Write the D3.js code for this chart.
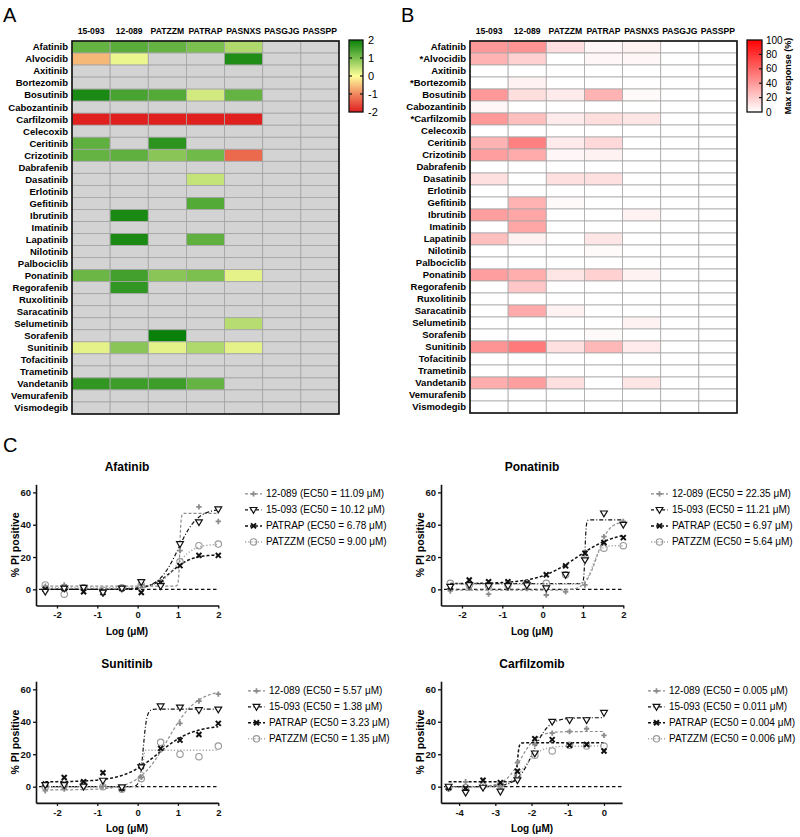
<!DOCTYPE html>
<html><head><meta charset="utf-8">
<script src="https://cdn.jsdelivr.net/npm/d3@7"></script>
<style>body{margin:0;background:#fff}svg{font-family:"Liberation Sans",Arial,sans-serif}</style>
</head><body><svg id="c" width="800" height="837"></svg>
<script>
// ---------------- DATA ----------------
const drugs = ["Afatinib","Alvocidib","Axitinib","Bortezomib","Bosutinib","Cabozantinib","Carfilzomib","Celecoxib","Ceritinib","Crizotinib","Dabrafenib","Dasatinib","Erlotinib","Gefitinib","Ibrutinib","Imatinib","Lapatinib","Nilotinib","Palbociclib","Ponatinib","Regorafenib","Ruxolitinib","Saracatinib","Selumetinib","Sorafenib","Sunitinib","Tofacitinib","Trametinib","Vandetanib","Vemurafenib","Vismodegib"];
const starredDrugs = ["Alvocidib","Bortezomib","Carfilzomib"];
const cellLines = ["15-093","12-089","PATZZM","PATRAP","PASNXS","PASGJG","PASSPP"];
const N = null;
// Panel A: sensitivity z-scores (null = not assessed, grey)
const zScores = [
 [1.2,1.3,1.2,1.0,0.6,N,N],
 [-0.6,0.15,N,N,1.8,N,N],
 [N,N,N,N,N,N,N],
 [N,N,N,N,N,N,N],
 [1.85,1.45,1.35,0.35,1.2,N,N],
 [N,N,N,N,N,N,N],
 [-2,-2,-2,-2,-2,N,N],
 [N,N,N,N,N,N,N],
 [1.25,N,1.7,N,N,N,N],
 [1.2,1.25,0.9,1.1,-1.3,N,N],
 [N,N,N,N,N,N,N],
 [N,N,N,0.45,N,N,N],
 [N,N,N,N,N,N,N],
 [N,N,N,1.35,N,N,N],
 [N,1.85,N,N,N,N,N],
 [N,N,N,N,N,N,N],
 [N,1.85,N,1.25,N,N,N],
 [N,N,N,N,N,N,N],
 [N,N,N,N,N,N,N],
 [1.15,1.5,0.9,1.0,0.2,N,N],
 [N,1.65,N,N,N,N,N],
 [N,N,N,N,N,N,N],
 [N,N,N,N,N,N,N],
 [N,N,N,N,0.55,N,N],
 [N,N,2.0,N,N,N,N],
 [0.2,0.9,0.2,0.6,0.2,N,N],
 [N,N,N,N,N,N,N],
 [N,N,N,N,N,N,N],
 [1.65,1.55,1.55,1.2,N,N,N],
 [N,N,N,N,N,N,N],
 [N,N,N,N,N,N,N]
];
// Panel B: max response (%)
const maxResponse = [
 [40,42,12,3,5,0,0],
 [30,18,0,3,3,0,0],
 [0,0,0,0,0,0,0],
 [0,5,0,0,0,0,0],
 [40,13,8,30,2,0,0],
 [3,0,0,0,0,0,0],
 [40,25,8,13,10,0,0],
 [0,0,0,0,0,0,0],
 [30,50,8,15,0,0,0],
 [38,33,3,5,0,0,0],
 [0,0,0,0,0,0,0],
 [12,0,12,12,0,0,0],
 [0,0,0,0,0,0,0],
 [0,30,2,0,0,0,0],
 [38,35,0,0,5,0,0],
 [0,35,0,0,0,0,0],
 [25,5,0,10,0,0,0],
 [0,0,0,2,0,0,0],
 [0,0,0,0,0,0,0],
 [38,32,10,18,5,0,0],
 [0,22,0,0,0,0,0],
 [0,0,0,0,0,0,0],
 [0,33,5,0,0,0,0],
 [0,0,0,0,5,0,0],
 [0,0,0,2,0,0,0],
 [42,52,12,28,8,0,0],
 [0,0,0,0,0,0,0],
 [0,0,0,0,0,0,0],
 [32,38,12,0,10,0,0],
 [0,0,0,0,0,0,0],
 [0,0,0,0,0,0,0]
];
const zTicks = [2,1,0,-1,-2];
const maxTicks = [100,80,60,40,20,0];

// Panel C: dose response
const drLines = ["12-089","15-093","PATRAP","PATZZM"];
const yTicksDR = [0,20,40,60];
const xTicksMain = [-2,-1,0,1,2];
const xTicksCarf = [-4,-3,-2,-1,0];
const dosesMain = [-2.29,-1.82,-1.34,-0.86,-0.39,0.09,0.57,1.05,1.52,2.0];
const dosesCarf = [-4.29,-3.82,-3.34,-2.86,-2.39,-1.91,-1.43,-0.95,-0.48,0.0];
const afatinibY = [
 [2,2.7,1.6,-3,1,2.7,3,24,51,42],
 [-1.5,0.5,1,-2,0.5,4.5,2,28,41.5,49.5],
 [0,0.5,-1.5,-2,0.5,-2,4,14.7,21,21],
 [2.7,-3,1,-0.5,1,2.7,4,17,27,28]
];
const ponatinibY = [
 [-1,0.6,-3,0.6,0.5,-3.5,-1.5,2.7,32.6,42],
 [1.6,2.7,2,2,2.5,0.6,9,18,47,40],
 [1.6,5.8,4.7,4.7,4,9,14.5,22.3,29,32],
 [3.7,2.7,2,2.7,3.7,3.7,9,20,25.5,27]
];
const sunitinibY = [
 [-2.5,-1.4,-0.4,0.4,-1.6,5.7,22.6,39,52.8,57],
 [1,1,0,3.7,-0.4,12,49.5,48.8,47.2,47.6],
 [1.6,5.7,3,8.6,-1,12.7,23.6,28.7,32.2,39],
 [0,1,1,0,-1.6,5,27.3,20,18.5,25]
];
const carfilzomibY = [
 [-1.6,3,0,0.4,14.8,26,33,34,35.7,31.6],
 [0,-3.7,-0.6,-3,4,20.5,40,41,41,45.5],
 [-0.5,-1,4,2.5,9.5,29.5,29,25.5,26,22],
 [-0.6,-0.5,0.5,1,6.5,19.3,22,25.5,25,25]
];
// fitted 4-parameter curves: [bottom, top, logEC50, hill]
const afatinibFit = [[2,47,1.045,30],[0,50,1.005,1.8],[0,21.5,0.83,1.7],[1,28,0.954,2.0]];
const ponatinibFit = [[-0.5,42,1.35,3],[3.5,43,1.05,30],[3.5,36,0.843,0.9],[3.2,27,1.25,5]];
const sunitinibFit = [[-2,60,0.746,1.2],[0,47.8,0.14,10],[3,38,0.51,1.0],[0,22.5,0.13,30]];
const carfilzomibFit = [[0,34,-2.3,2],[0,42.5,-1.96,2],[3,27,-2.39,20],[-0.5,25,-2.2,2]];
const afatinibEC50 = ["11.09","10.12","6.78","9.00"];
const ponatinibEC50 = ["22.35","11.21","6.97","5.64"];
const sunitinibEC50 = ["5.57","1.38","3.23","1.35"];
const carfilzomibEC50 = ["0.005","0.011","0.004","0.006"];

// ---------------- DRAW ----------------
const svg = d3.select("#c");

// panel letters
[["A",3,22],["B",401,22],["C",3,452]].forEach(([t,x,y])=>{
  svg.append("text").attr("x",x).attr("y",y).attr("font-size",20).text(t);
});

const zColor = d3.scaleLinear().domain([-2,-1,0,1,2])
  .range(["#e01f1f","#f08860","#ffff99","#7cc050","#098009"]);
const mColor = d3.scaleLinear().domain([0,100]).range(["#ffffff","#ff0000"]);

function drawHeat(cfg){
  const g = svg.append("g");
  const x = d3.scaleBand().domain(cellLines).range([cfg.x0,cfg.x1]);
  const y = d3.scaleBand().domain(drugs).range([cfg.y0,cfg.y1]);
  drugs.forEach((d,i)=>cellLines.forEach((c,j)=>{
    const v = cfg.values[i][j];
    g.append("rect").attr("x",x(c)).attr("y",y(d))
      .attr("width",x.bandwidth()).attr("height",y.bandwidth())
      .attr("fill", v==null ? "#d3d3d3" : cfg.color(v))
      .attr("stroke",cfg.grid).attr("stroke-width",0.8);
  }));
  g.append("rect").attr("x",cfg.x0).attr("y",cfg.y0)
    .attr("width",cfg.x1-cfg.x0).attr("height",cfg.y1-cfg.y0)
    .attr("fill","none").attr("stroke","#111").attr("stroke-width",1.6);
  cellLines.forEach(c=>{
    g.append("text").attr("x",x(c)+x.bandwidth()/2).attr("y",cfg.y0-7)
      .attr("text-anchor","middle").attr("font-size",8.6).attr("font-weight","bold").text(c);
  });
  drugs.forEach(d=>{
    const lab = (cfg.stars && starredDrugs.includes(d)) ? "*"+d : d;
    g.append("text").attr("x",cfg.x0-4).attr("y",y(d)+y.bandwidth()/2)
      .attr("dy","0.35em").attr("text-anchor","end")
      .attr("font-size",9.5).attr("font-weight","bold").text(lab);
  });
}

drawHeat({x0:72,x1:339,y0:41,y1:414,values:zScores,color:zColor,grid:"#a3a3a3",stars:false});
drawHeat({x0:470,x1:737,y0:41,y1:413,values:maxResponse,color:mColor,grid:"#a8a8a8",stars:true});

// legends for heatmaps
const defs = svg.append("defs");
function heatLegend(cfg){
  const grad = defs.append("linearGradient").attr("id",cfg.id)
    .attr("x1",0).attr("y1",0).attr("x2",0).attr("y2",1);
  const s = d3.scaleLinear().domain(cfg.domain).range([cfg.y0,cfg.y1]);
  const steps = d3.range(0,1.0001,0.05);
  steps.forEach(t=>{
    const v = cfg.domain[0]+(cfg.domain[1]-cfg.domain[0])*t;
    grad.append("stop").attr("offset",t).attr("stop-color",cfg.color(v));
  });
  svg.append("rect").attr("x",cfg.x0).attr("y",cfg.y0).attr("width",cfg.w)
    .attr("height",cfg.y1-cfg.y0).attr("fill",`url(#${cfg.id})`)
    .attr("stroke","#111").attr("stroke-width",1.3);
  cfg.ticks.forEach((t,i)=>{
    const yy = s(t);
    if(i>0 && i<cfg.ticks.length-1){
      if(cfg.left) svg.append("line").attr("x1",cfg.x0).attr("x2",cfg.x0+3).attr("y1",yy).attr("y2",yy).attr("stroke","#111").attr("stroke-width",1.2);
      svg.append("line").attr("x1",cfg.x0+cfg.w-3).attr("x2",cfg.x0+cfg.w).attr("y1",yy).attr("y2",yy).attr("stroke","#111").attr("stroke-width",1.2);
    }
    svg.append("text").attr("x",cfg.x0+cfg.w+cfg.lx).attr("y",yy).attr("dy","0.35em")
      .attr("font-size",cfg.fs).text(t);
  });
  if(cfg.title){
    const cy=(cfg.y0+cfg.y1)/2;
    svg.append("text").attr("transform",`translate(${cfg.tx},${cy}) rotate(-90)`)
      .attr("text-anchor","middle").attr("font-size",9).attr("font-weight","bold").text(cfg.title);
  }
}
heatLegend({id:"gA",domain:[2,-2],color:zColor,x0:349,w:14,y0:40,y1:112,ticks:zTicks,lx:5,fs:11,left:true});
heatLegend({id:"gB",domain:[100,0],color:mColor,x0:747,w:15,y0:40,y1:112,ticks:maxTicks,lx:4,fs:10,left:false,title:"Max response (%)",tx:791});

// ---------------- dose response ----------------
const lineStyles = [
  {stroke:"#8c8c8c",dash:"3,2",w:1.2},
  {stroke:"#111",dash:"4,2,1,2",w:1.2},
  {stroke:"#111",dash:"3,2",w:1.5},
  {stroke:"#a8a8a8",dash:"1.2,2",w:1.5}
];
function drawSymbol(g,k,cx,cy){
  if(k===0){
    g.append("path").attr("d",d3.symbol(d3.symbolCross,16)()).attr("transform",`translate(${cx},${cy})`).attr("fill","#8c8c8c");
  }else if(k===1){
    g.append("path").attr("d","M-3.4,-2.4L3.4,-2.4L0,3.4Z").attr("transform",`translate(${cx},${cy})`)
      .attr("fill","#fff").attr("stroke","#111").attr("stroke-width",1.2);
  }else if(k===2){
    g.append("path").attr("d","M-2.5,-2.5L2.5,2.5M-2.5,2.5L2.5,-2.5").attr("transform",`translate(${cx},${cy})`)
      .attr("fill","none").attr("stroke","#111").attr("stroke-width",2);
  }else{
    g.append("circle").attr("cx",cx).attr("cy",cy).attr("r",3.2).attr("fill","none")
      .attr("stroke","#999").attr("stroke-width",1.1);
  }
}
const hill = (f,x)=> f[0]+(f[1]-f[0])/(1+Math.pow(10,(f[2]-x)*f[3]));

const plots = [
 {title:"Afatinib",doses:dosesMain,ys:afatinibY,fit:afatinibFit,ec:afatinibEC50,xTicks:xTicksMain,xDom:[-2.52,2],left:36,right:218.3,top:484.3,bottom:605.5,lx:245,tx:127,ylx:15},
 {title:"Ponatinib",doses:dosesMain,ys:ponatinibY,fit:ponatinibFit,ec:ponatinibEC50,xTicks:xTicksMain,xDom:[-2.52,2],left:441,right:623.3,top:484.3,bottom:605.5,lx:651,tx:532,ylx:420},
 {title:"Sunitinib",doses:dosesMain,ys:sunitinibY,fit:sunitinibFit,ec:sunitinibEC50,xTicks:xTicksMain,xDom:[-2.52,2],left:36,right:218.3,top:681.2,bottom:802.9,lx:248,tx:127,ylx:15},
 {title:"Carfilzomib",doses:dosesCarf,ys:carfilzomibY,fit:carfilzomibFit,ec:carfilzomibEC50,xTicks:xTicksCarf,xDom:[-4.5,0.5],left:441,right:622.1,top:681.2,bottom:802.9,lx:648,tx:532,ylx:420}
];

plots.forEach(p=>{
  const g = svg.append("g");
  const x = d3.scaleLinear().domain(p.xDom).range([p.left,p.right]);
  const y = d3.scaleLinear().domain([-10,65]).range([p.bottom,p.top]);
  // zero reference line
  g.append("line").attr("x1",x(p.xDom[0])+3).attr("x2",x(p.xDom[1]))
    .attr("y1",y(0)).attr("y2",y(0)).attr("stroke","#111").attr("stroke-width",1.3).attr("stroke-dasharray","3.5,2.5");
  // fitted curves
  const xs = d3.range(p.doses[0], p.doses[p.doses.length-1]+0.0001, 0.004);
  const lineGen = d3.line().x(d=>x(d[0])).y(d=>y(d[1]));
  p.fit.forEach((f,k)=>{
    const st = lineStyles[k];
    g.append("path").attr("d",lineGen(xs.map(v=>[v,hill(f,v)])))
      .attr("fill","none").attr("stroke",st.stroke).attr("stroke-width",st.w).attr("stroke-dasharray",st.dash);
  });
  // points
  [3,0,2,1].forEach(k=>{
    p.ys[k].forEach((v,i)=>drawSymbol(g,k,x(p.doses[i]),y(v)));
  });
  // axes
  const fmt = d=>String(d);
  const ya = g.append("g").attr("transform",`translate(${p.left},0)`)
    .call(d3.axisLeft(y).tickValues(yTicksDR).tickFormat(fmt).tickSize(3).tickSizeOuter(0));
  const xa = g.append("g").attr("transform",`translate(0,${p.bottom})`)
    .call(d3.axisBottom(x).tickValues(p.xTicks).tickFormat(fmt).tickSize(3).tickSizeOuter(0));
  [ya,xa].forEach(a=>{
    a.select(".domain").attr("stroke","#111").attr("stroke-width",1.6);
    a.selectAll(".tick line").attr("stroke","#111").attr("stroke-width",1.3);
    a.selectAll(".tick text").attr("font-family","Liberation Sans, Arial, sans-serif")
      .attr("font-size",9.5).attr("font-weight","bold").attr("fill","#111");
  });
  xa.selectAll(".tick text").attr("y",6);
  ya.selectAll(".tick text").attr("x",-5);
  // titles
  g.append("text").attr("x",p.tx).attr("y",p.top-13).attr("text-anchor","middle")
    .attr("font-size",12).attr("font-weight","bold").text(p.title);
  g.append("text").attr("x",p.tx).attr("y",p.bottom+29).attr("text-anchor","middle")
    .attr("font-size",10).attr("font-weight","bold").text("Log (\u03BCM)");
  g.append("text").attr("transform",`translate(${p.ylx},${(p.top+p.bottom)/2}) rotate(-90)`)
    .attr("text-anchor","middle").attr("dy","0.35em").attr("font-size",10.5).attr("font-weight","bold").text("% PI positive");
  // legend
  drLines.forEach((name,k)=>{
    const ly = y(60)+1.5+k*16;
    const st = lineStyles[k];
    g.append("line").attr("x1",p.lx).attr("x2",p.lx+17).attr("y1",ly).attr("y2",ly)
      .attr("stroke",st.stroke).attr("stroke-width",st.w).attr("stroke-dasharray",k===1?"3,2.5":st.dash);
    drawSymbol(g,k,p.lx+8.5,ly);
    g.append("text").attr("x",p.lx+21).attr("y",ly).attr("dy","0.35em").attr("font-size",10)
      .text(`${name} (EC50 = ${p.ec[k]} \u03BCM)`);
  });
});
</script></body></html>
